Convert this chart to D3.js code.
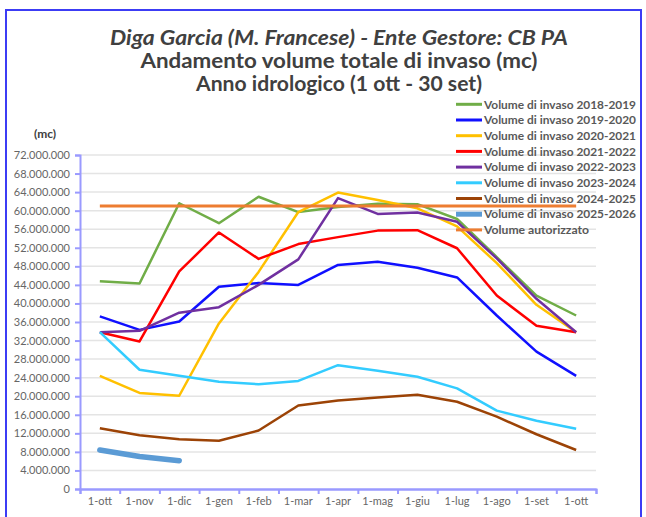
<!DOCTYPE html>
<html>
<head>
<meta charset="utf-8">
<script src="https://cdn.jsdelivr.net/npm/d3@7"></script>
<style>
body { margin: 0; background: #fff; }
svg { display: block; font-family: Lato, "Open Sans", sans-serif; }
</style>
</head>
<body>
<div id="chart"></div>
<script>

// mesi dell'anno idrologico (1 ott -> 1 ott)
let months = ["1-ott", "1-nov", "1-dic", "1-gen", "1-feb", "1-mar", "1-apr", "1-mag", "1-giu", "1-lug", "1-ago", "1-set", "1-ott"];

let seriesNames = [
    "Volume di invaso 2018-2019",
    "Volume di invaso 2019-2020",
    "Volume di invaso 2020-2021",
    "Volume di invaso 2021-2022",
    "Volume di invaso 2022-2023",
    "Volume di invaso 2023-2024",
    "Volume di invaso 2024-2025",
    "Volume di invaso 2025-2026",
    "Volume autorizzato"
];

let colors = ["#70AD47", "#1010FF", "#FFC000", "#FF0000", "#7030A0", "#33CCFF", "#9C4306", "#5B9BD5", "#ED7D31"];

// volumi in mc
let vol1819 = [44800000, 44300000, 61600000, 57300000, 63000000, 59700000, 60800000, 61500000, 61400000, 58200000, 50000000, 41700000, 37400000];
let vol1920 = [37200000, 34300000, 36100000, 43600000, 44400000, 44000000, 48300000, 49000000, 47700000, 45600000, 37400000, 29600000, 24400000];
let vol2021 = [24400000, 20700000, 20100000, 35700000, 46800000, 59700000, 63900000, 62300000, 60500000, 56600000, 48700000, 39700000, 33800000];
let vol2122 = [33800000, 31800000, 46900000, 55300000, 49600000, 52800000, 54300000, 55700000, 55800000, 51900000, 41700000, 35200000, 33800000];
let vol2223 = [33800000, 34100000, 38000000, 39200000, 44000000, 49500000, 62700000, 59300000, 59600000, 57600000, 49700000, 41000000, 33800000];
let vol2324 = [33800000, 25700000, 24400000, 23100000, 22600000, 23300000, 26700000, 25500000, 24200000, 21700000, 16900000, 14700000, 13000000];
let vol2425 = [13100000, 11600000, 10700000, 10400000, 12600000, 18000000, 19100000, 19700000, 20300000, 18800000, 15600000, 11800000, 8400000];
let vol2526 = [8400000, 7000000, 6100000];
let autorizzato = [61000000, 61000000, 61000000, 61000000, 61000000, 61000000, 61000000, 61000000, 61000000, 61000000, 61000000, 61000000, 61000000];

let yTicks = d3.range(0, 72000001, 4000000);

let allSeries = [vol1819, vol1920, vol2021, vol2122, vol2223, vol2324, vol2425, vol2526, autorizzato];

let svgWidth = 646, svgHeight = 517;
let margin = {top: 155, right: 50, bottom: 28, left: 80};
let plotWidth = 596 - margin.left, plotHeight = 489 - margin.top;

let it = d3.formatLocale({decimal: ",", thousands: ".", grouping: [3], currency: ["€", ""]});
let fmt = it.format(",");

let svg = d3.select("#chart").append("svg")
    .attr("width", svgWidth)
    .attr("height", svgHeight);

// cornice
svg.append("rect")
    .attr("x", 6).attr("y", 10)
    .attr("width", 635).attr("height", 520)
    .attr("fill", "none")
    .attr("stroke", "#3c3cf5")
    .attr("stroke-width", 2);

// titoli
let titles = [
    {t: "Diga Garcia (M. Francese) - Ente Gestore: CB PA", y: 45, w: 458, it: true},
    {t: "Andamento volume totale di invaso (mc)", y: 68, w: 397, it: false},
    {t: "Anno idrologico (1 ott - 30 set)", y: 91, w: 286, it: false}
];
svg.selectAll(".title").data(titles).enter().append("text")
    .attr("class", "title")
    .attr("x", 339)
    .attr("y", function(d) { return d.y; })
    .attr("text-anchor", "middle")
    .attr("font-size", "20px")
    .attr("font-weight", "bold")
    .attr("font-style", function(d) { return d.it ? "italic" : "normal"; })
    .attr("fill", "#404040")
    .attr("textLength", function(d) { return d.w; })
    .attr("lengthAdjust", "spacingAndGlyphs")
    .text(function(d) { return d.t; });

svg.append("text")
    .attr("x", 45).attr("y", 138)
    .attr("text-anchor", "middle")
    .attr("font-size", "12px")
    .attr("font-weight", "bold")
    .attr("fill", "#404040")
    .text("(mc)");

let g = svg.append("g")
    .attr("transform", "translate(" + margin.left + "," + margin.top + ")");

let x = d3.scaleBand().domain(d3.range(months.length)).range([0, plotWidth]);
let xb = d3.scaleLinear().domain([0, months.length]).range([0, plotWidth]);
let y = d3.scaleLinear().domain([0, 72000000]).range([plotHeight, 0]);

// griglia
g.selectAll(".grid").data(yTicks.slice(1)).enter().append("line")
    .attr("class", "grid")
    .attr("x1", 0).attr("x2", plotWidth)
    .attr("y1", function(d) { return y(d); })
    .attr("y2", function(d) { return y(d); })
    .attr("stroke", "#e4e4e4")
    .attr("stroke-width", 1.5);

let axisColor = "#9a9aff";

let yAxis = g.append("g")
    .call(d3.axisLeft(y).tickValues(yTicks).tickSize(5).tickPadding(5).tickFormat(fmt));
yAxis.selectAll("text").attr("font-size", "11px").attr("fill", "#666").attr("font-family", "Lato, sans-serif");

let xTicks = g.append("g")
    .attr("transform", "translate(0," + plotHeight + ")")
    .call(d3.axisBottom(xb).tickValues(d3.range(0, months.length + 1)).tickSize(5).tickFormat(""));

let xAxis = g.append("g")
    .attr("transform", "translate(0," + plotHeight + ")")
    .call(d3.axisBottom(x).tickSize(0).tickPadding(8).tickFormat(function(i) { return months[i]; }));
xAxis.selectAll("text").attr("font-size", "11px").attr("fill", "#666").attr("font-family", "Lato, sans-serif");

[yAxis, xTicks, xAxis].forEach(function(a) {
    a.selectAll("path, line").attr("stroke", axisColor).attr("stroke-width", 2);
});

let line = d3.line()
    .x(function(d, i) { return x(i) + x.bandwidth() / 2; })
    .y(function(d) { return y(d); });

allSeries.forEach(function(s, k) {
    g.append("path")
        .datum(s)
        .attr("d", line)
        .attr("fill", "none")
        .attr("stroke", colors[k])
        .attr("stroke-width", k == 7 ? 5.5 : (k == 8 ? 3 : 2.5))
        .attr("stroke-linecap", k == 7 ? "round" : "butt")
        .attr("stroke-linejoin", "round");
});

// legenda
let legend = svg.selectAll(".leg").data(seriesNames).enter().append("g")
    .attr("class", "leg")
    .attr("transform", function(d, i) { return "translate(456," + (104.3 + i * 15.7) + ")"; });

legend.append("line")
    .attr("x1", 0).attr("x2", 26)
    .attr("stroke", function(d, i) { return colors[i]; })
    .attr("stroke-width", function(d, i) { return i == 7 ? 5 : 3; });

legend.append("text")
    .attr("x", 28)
    .attr("dy", "0.35em")
    .attr("font-size", "12px")
    .attr("font-weight", "bold")
    .attr("fill", "#595959")
    .attr("textLength", function(d) { return d == "Volume autorizzato" ? 105 : 152; })
    .attr("lengthAdjust", "spacingAndGlyphs")
    .text(function(d) { return d; });

</script>
</body>
</html>
